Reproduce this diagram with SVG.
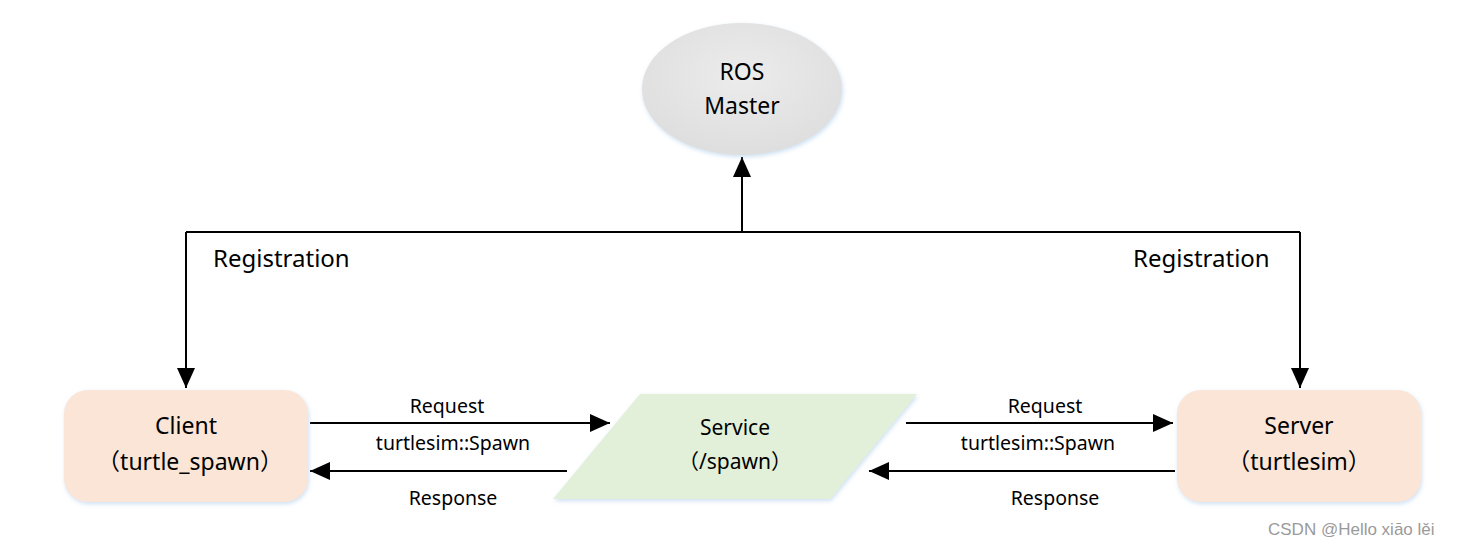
<svg xmlns="http://www.w3.org/2000/svg" width="1467" height="546" viewBox="0 0 1467 546">
<style>
text{font-family:"Noto Sans","Noto Sans CJK SC",sans-serif;fill:#000;text-anchor:middle}
.node{font-size:23px}
.svc{font-size:21px}
.lbl{font-size:19.5px}
.reg{font-size:24px;text-anchor:start}
.wire{stroke:#000;stroke-width:2;fill:none}
.wm{font-family:"Liberation Sans",sans-serif;font-size:17px;fill:#9a9a9a;text-anchor:start}
</style>
<defs>
<marker id="ahB" viewBox="0 0 10 10" refX="10" refY="5" markerWidth="20" markerHeight="18" markerUnits="userSpaceOnUse" orient="auto" preserveAspectRatio="none">
<path d="M0,0 L10,5 L0,10 Z" fill="#000"/>
</marker>
<filter id="sh" x="-10%" y="-10%" width="120%" height="130%">
<feGaussianBlur in="SourceAlpha" stdDeviation="2"/>
<feOffset dx="1" dy="2" result="b"/>
<feFlood flood-color="#9dc3e6" flood-opacity="0.5"/>
<feComposite in2="b" operator="in"/>
<feMerge><feMergeNode/><feMergeNode in="SourceGraphic"/></feMerge>
</filter>
<radialGradient id="eg" cx="50%" cy="40%" r="60%">
<stop offset="0" stop-color="#ececec"/>
<stop offset="1" stop-color="#dedede"/>
</radialGradient>
</defs>

<g id="connectors">
<path class="wire" d="M186,232 H1300"/>
<path class="wire" d="M742,232 V157" marker-end="url(#ahB)"/>
<path class="wire" d="M186,232 V388" marker-end="url(#ahB)"/>
<path class="wire" d="M1300,232 V388" marker-end="url(#ahB)"/>
<path class="wire" d="M310,423 H610" marker-end="url(#ahB)"/>
<path class="wire" d="M567,471 H310" marker-end="url(#ahB)"/>
<path class="wire" d="M906,423 H1173" marker-end="url(#ahB)"/>
<path class="wire" d="M1175,471 H869" marker-end="url(#ahB)"/>
<text class="reg" x="213" y="267">Registration</text>
<text class="reg" x="1133" y="267">Registration</text>
<text class="lbl" x="447" y="413">Request</text>
<text class="lbl" x="453" y="450">turtlesim::Spawn</text>
<text class="lbl" x="453" y="505">Response</text>
<text class="lbl" x="1045" y="413">Request</text>
<text class="lbl" x="1038" y="450">turtlesim::Spawn</text>
<text class="lbl" x="1055" y="505">Response</text>
</g>

<g id="master">
<ellipse cx="742" cy="89" rx="100" ry="66" fill="url(#eg)" filter="url(#sh)"/>
<text class="node" x="742" y="80">ROS</text>
<text class="node" x="742" y="114">Master</text>
</g>

<g id="client">
<rect x="64" y="390" width="244" height="112" rx="24" fill="#fbe5d6" filter="url(#sh)"/>
<text class="node" x="186" y="434">Client</text>
<text class="node" x="190" y="470">（turtle_spawn）</text>
</g>

<g id="service">
<path d="M640,394 H917 L830,499 H553 Z" fill="#e2f0d9" filter="url(#sh)"/>
<text class="svc" x="735" y="435">Service</text>
<text class="svc" x="735" y="469">（/spawn）</text>
</g>

<g id="server">
<rect x="1177" y="390" width="244" height="112" rx="24" fill="#fbe5d6" filter="url(#sh)"/>
<text class="node" x="1299" y="434">Server</text>
<text class="node" x="1299" y="470">（turtlesim）</text>
</g>

<text class="wm" x="1268" y="535">CSDN @Hello xiāo lěi</text>
</svg>
